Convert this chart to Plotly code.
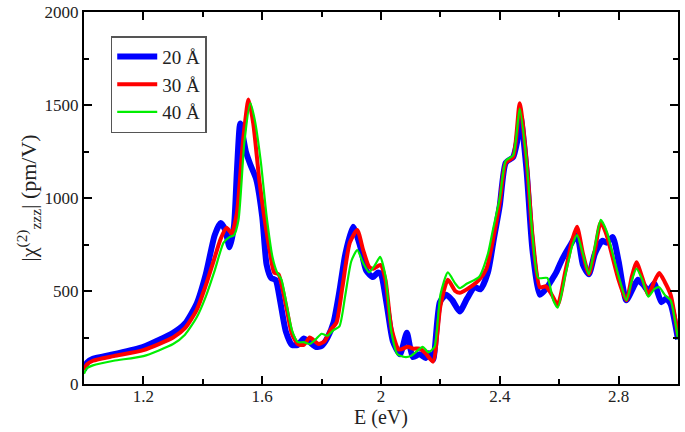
import plotly.graph_objects as go

E_20 = [1.0,1.01,1.03,1.1,1.2,1.3,1.34,1.38,1.41,1.44,1.46,1.475,1.49,1.505,1.515,1.526,1.545,1.56,1.58,1.6,1.615,1.63,1.645,1.66,1.68,1.70,1.72,1.74,1.76,1.78,1.80,1.82,1.84,1.86,1.88,1.906,1.93,1.95,1.973,1.99,2.0,2.02,2.04,2.064,2.087,2.107,2.13,2.15,2.16,2.175,2.198,2.22,2.24,2.265,2.29,2.315,2.335,2.36,2.38,2.40,2.42,2.445,2.458,2.47,2.49,2.51,2.535,2.555,2.575,2.59,2.61,2.635,2.66,2.68,2.70,2.72,2.745,2.76,2.78,2.80,2.826,2.85,2.865,2.885,2.90,2.92,2.944,2.96,2.975,3.0]
chi_20 = [75,115,135,160,200,275,325,435,590,800,865,830,735,850,1150,1400,1250,1180,1100,900,640,570,560,450,280,210,210,245,225,200,205,250,330,500,700,845,740,610,575,600,590,420,230,160,275,145,160,140,165,130,440,480,450,390,460,520,510,600,780,960,1190,1220,1300,1435,1150,720,480,510,560,600,670,740,800,640,590,700,770,760,790,660,450,520,560,530,500,540,440,460,430,240]

E_30 = [1.0,1.01,1.03,1.1,1.2,1.3,1.34,1.38,1.41,1.437,1.46,1.48,1.497,1.515,1.535,1.554,1.57,1.59,1.605,1.625,1.64,1.655,1.67,1.683,1.70,1.72,1.74,1.76,1.77,1.79,1.81,1.83,1.85,1.87,1.895,1.92,1.94,1.96,1.975,1.998,2.015,2.035,2.06,2.09,2.11,2.13,2.15,2.175,2.20,2.225,2.25,2.265,2.29,2.33,2.355,2.38,2.40,2.42,2.445,2.467,2.49,2.51,2.535,2.555,2.575,2.595,2.62,2.645,2.66,2.68,2.70,2.72,2.74,2.76,2.78,2.80,2.826,2.845,2.86,2.88,2.90,2.92,2.937,2.955,2.975,3.0]
chi_30 = [75,105,125,150,182,250,300,400,530,665,780,840,810,920,1300,1530,1400,1100,920,720,600,590,500,400,270,215,210,250,240,215,230,290,330,520,760,828,720,630,620,640,560,300,185,200,190,190,165,120,420,560,500,490,510,560,620,800,980,1190,1220,1510,1200,800,520,525,480,425,600,780,845,700,590,720,870,800,680,560,450,580,655,570,480,550,597,550,480,260]

E_40 = [1.0,1.01,1.03,1.1,1.2,1.3,1.34,1.38,1.41,1.44,1.47,1.49,1.505,1.52,1.54,1.56,1.575,1.595,1.615,1.635,1.65,1.665,1.683,1.70,1.72,1.74,1.76,1.78,1.80,1.82,1.84,1.86,1.88,1.90,1.92,1.94,1.96,1.98,1.997,2.015,2.035,2.055,2.08,2.10,2.12,2.14,2.16,2.18,2.20,2.225,2.25,2.265,2.29,2.33,2.36,2.377,2.40,2.42,2.445,2.467,2.49,2.51,2.53,2.56,2.58,2.595,2.62,2.645,2.66,2.68,2.70,2.72,2.74,2.76,2.78,2.80,2.826,2.845,2.86,2.88,2.90,2.92,2.937,2.955,2.975,3.0]
chi_40 = [55,85,100,125,150,215,265,360,470,610,760,790,800,880,1300,1510,1420,1200,900,680,600,560,420,290,225,225,215,240,270,260,290,310,480,660,720,650,600,640,683,580,280,160,145,150,175,200,170,200,480,600,540,515,540,575,700,830,1000,1200,1230,1480,1200,800,570,570,450,410,580,750,800,700,590,740,882,820,700,580,450,560,620,560,470,510,520,480,450,240]

labels = ["20 Å", "30 Å", "40 Å"]
colors = ["#0000ff", "#ff0000", "#00ee00"]
widths = [6, 4, 2.2]

fig = go.Figure()
for E, chi, lab, c, w in zip([E_20, E_30, E_40], [chi_20, chi_30, chi_40], labels, colors, widths):
    fig.add_trace(go.Scatter(x=E, y=chi, mode="lines", name=lab,
                             line=dict(color=c, width=w, shape="spline", smoothing=0.6)))

font_family = "Liberation Serif"
axis_common = dict(showline=True, linecolor="black", linewidth=2, mirror="allticks",
                   ticks="inside", ticklen=8, tickwidth=1.5, tickcolor="black",
                   showgrid=False, zeroline=False, automargin=False,
                   tickfont=dict(family=font_family, size=17, color="#222"))

fig.update_layout(
    width=685, height=432,
    margin=dict(l=84, r=7, t=12, b=48),
    paper_bgcolor="white", plot_bgcolor="white",
    font=dict(family=font_family, color="#222"),
    xaxis=dict(range=[1.0, 3.0], tickvals=[1.2, 1.6, 2.0, 2.4, 2.8], ticktext=["1.2", "1.6", "2", "2.4", "2.8"],
               minor=dict(tickvals=[1.0, 1.4, 1.8, 2.2, 2.6, 3.0], ticks="inside", ticklen=5, tickcolor="black", tickwidth=1.5),
               ticklabelstandoff=-4,
               title=dict(text="E (eV)", font=dict(family=font_family, size=20), standoff=2),
               **axis_common),
    yaxis=dict(range=[0, 2000], tickvals=[0, 500, 1000, 1500, 2000],
               minor=dict(tickvals=[250, 750, 1250, 1750], ticks="inside", ticklen=5, tickcolor="black", tickwidth=1.5),
               title=dict(text="|χ<sup>(2)</sup><sub>zzz</sub>| (pm/V)", font=dict(family=font_family, size=22), standoff=2),
               **axis_common),
    legend=dict(x=0.045, y=0.935, xanchor="left", yanchor="top",
                bordercolor="#555", borderwidth=1.5, bgcolor="white",
                font=dict(family=font_family, size=19, color="#222"),
                tracegroupgap=0, itemwidth=40),
    showlegend=True,
)

fig.write_html("out.html")
